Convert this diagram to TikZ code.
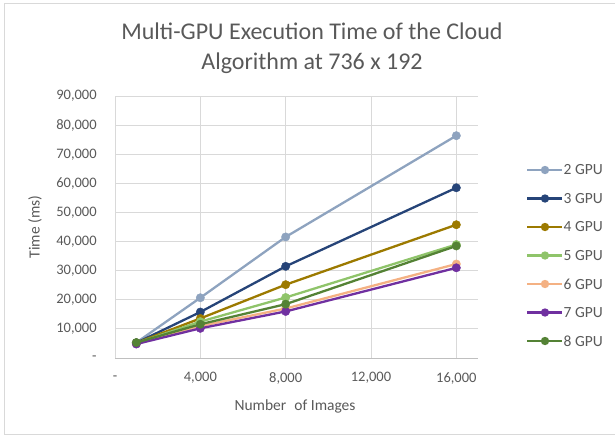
\documentclass[tikz,border=0pt]{standalone}
\usepackage{fontspec}
\setmainfont{Carlito}
\usepackage{xcolor}
\usepackage{tikz}
\usetikzlibrary{positioning}
\definecolor{gridgray}{HTML}{D9D9D9}
\definecolor{axisgray}{HTML}{BFBFBF}
\definecolor{labelgray}{HTML}{595959}
\definecolor{gpuii}{HTML}{8EA3BF}
\definecolor{gpuiii}{HTML}{264478}
\definecolor{gpuiv}{HTML}{9C7A00}
\definecolor{gpuv}{HTML}{8FC46A}
\definecolor{gpuvi}{HTML}{F4B183}
\definecolor{gpuvii}{HTML}{7030A0}
\definecolor{gpuviii}{HTML}{548235}
\tikzset{
  gridline/.style={draw=gridgray, line width=1pt},
  axisline/.style={draw=axisgray, line width=1pt},
  ticklabel/.style={font=\fontsize{14.5}{16}\selectfont, text=labelgray, inner sep=0pt},
  axistitle/.style={font=\fontsize{15.5}{17}\selectfont, text=labelgray, inner sep=0pt},
  charttitle/.style={font=\fontsize{24}{30}\selectfont, text=labelgray, align=center},
  series/.style={line width=2.3pt, line join=round, line cap=round,
    mark=*, mark size=4.2pt, mark options={line width=0.4pt}},
  legendkey/.style={line width=2.3pt},
  legenddot/.style={circle, inner sep=0pt, minimum size=8.4pt},
  legendlabel/.style={font=\fontsize{15.5}{17}\selectfont, text=labelgray, anchor=west, inner sep=0pt}
}
\begin{document}
\begin{tikzpicture}[x=1pt, y=-1pt]
  \clip (0,0) rectangle (615,437);
  % chart frame, open on the right
  \draw[gridline] (4,3) rectangle (640,434);

  \node[charttitle] (title) at (312,48)
    {Multi-GPU Execution Time of the Cloud\\Algorithm at 736 x 192};

  % plot area: x in thousands of images, y in thousands of ms
  \begin{scope}[shift={(115,358)}, x=21.333pt, y=2.91pt]
    \foreach \v in {10,20,...,90}
      \draw[gridline] (0,\v) -- (17,\v);
    \foreach \u in {0,4,8,12,16}
      \draw[gridline] (\u,0) -- (\u,90);
    \draw[axisline] (0,0) -- (17,0);

    \node[ticklabel, anchor=east] (ytick0) at (-0.85,0) {-};
    \foreach \v in {1,...,9}
      \node[ticklabel, anchor=east] (ytick\v) at (-0.85,\v*10) {\v0,000};
    \node[ticklabel] (xtick0) at (0,-6.9) {-};
    \foreach \u in {4,8,12,16}
      \node[ticklabel] (xtick\u) at (\u,-6.9) {\u,000};

    \draw[series, gpuii]   plot coordinates {(1,5.3) (4,20.7) (8,41.6) (16,76.4)};
    \draw[series, gpuiii]  plot coordinates {(1,5.2) (4,15.8) (8,31.5) (16,58.5)};
    \draw[series, gpuiv]   plot coordinates {(1,5.2) (4,13.6) (8,25.2) (16,45.8)};
    \draw[series, gpuv]    plot coordinates {(1,5.1) (4,12.5) (8,20.8) (16,39.0)};
    \draw[series, gpuvi]   plot coordinates {(1,4.9) (4,11.0) (8,17.0) (16,32.3)};
    \draw[series, gpuvii]  plot coordinates {(1,4.8) (4,10.2) (8,16.0) (16,31.0)};
    \draw[series, gpuviii] plot coordinates {(1,5.3) (4,11.6) (8,18.5) (16,38.5)};
  \end{scope}

  \node[axistitle] (xlabel) at (295,406) {Number\hspace{0.3em} of Images};
  \node[axistitle, rotate=90] (ylabel) at (35,227) {Time (ms)};

  % legend
  \foreach \s/\c [count=\i from 0] in {2/gpuii, 3/gpuiii, 4/gpuiv, 5/gpuv, 6/gpuvi, 7/gpuvii, 8/gpuviii} {
    \draw[legendkey, draw=\c] (527,170+28.5*\i) -- (562,170+28.5*\i);
    \node[legenddot, fill=\c] (key\s) at (545,170+28.5*\i) {};
    \node[legendlabel] (leg\s) at (563.5,170+28.5*\i) {\s\ GPU};
  }
\end{tikzpicture}
\end{document}
